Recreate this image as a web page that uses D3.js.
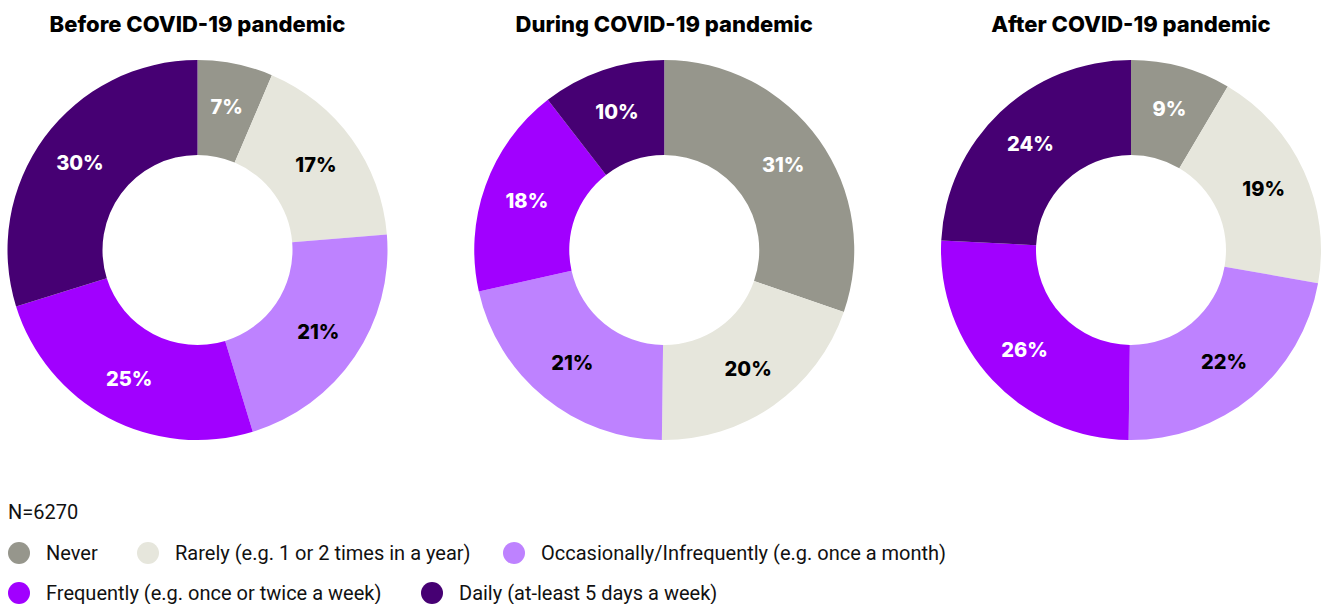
<!DOCTYPE html>
<meta charset="UTF-8">
<style>
body { margin: 0; background: #fff; }
.title { font: 800 22px "Inter", "Liberation Sans", sans-serif; fill: #000; }
.pct { font: 800 20px "Inter", "Liberation Sans", sans-serif; }
.legend text { font: 20px "Roboto", sans-serif; fill: #111; }
</style>
<body>
<div class="chart"></div>
<script src="https://d3js.org/d3.v7.min.js"></script>
<script>
var categories = ["Never", "Rarely", "Occasionally", "Frequently", "Daily"];
var legendLabels = [
  "Never",
  "Rarely (e.g. 1 or 2 times in a year)",
  "Occasionally/Infrequently (e.g. once a month)",
  "Frequently (e.g. once or twice a week)",
  "Daily (at-least 5 days a week)"
];
var colors = ["#96968c", "#e6e6dc", "#be82ff", "#a100ff", "#460073"];
var labelColors = ["#fff", "#000", "#000", "#fff", "#fff"];

var periods = ["Before COVID-19 pandemic", "During COVID-19 pandemic", "After COVID-19 pandemic"];
// slice shares as drawn
var beforeShare = [6.4, 17.3, 21.6, 24.9, 29.8];
var duringShare = [30.3, 19.9, 21.3, 18.0, 10.5];
var afterShare = [8.5, 19.3, 22.4, 25.6, 24.2];
// printed labels
var beforeLabel = [7, 17, 21, 25, 30];
var duringLabel = [31, 20, 21, 18, 10];
var afterLabel = [9, 19, 22, 26, 24];
var sampleNote = "N=6270";

var width = 1324, height = 604;
var svg = d3.select(".chart").append("svg")
  .attr("width", width)
  .attr("height", height);

var outerR = 190, innerR = 95, labelR = 146;
var cx = d3.scalePoint().domain(periods).range([197.5, 1131]);
var cy = 250;

var pie = d3.pie().sort(null).value(function (d) { return d; });
var arc = d3.arc().innerRadius(innerR).outerRadius(outerR);
var labelArc = d3.arc().innerRadius(labelR).outerRadius(labelR);

var shares = [beforeShare, duringShare, afterShare];
var labels = [beforeLabel, duringLabel, afterLabel];

shares.forEach(function (vals, i) {
  var g = svg.append("g")
    .attr("transform", "translate(" + cx(periods[i]) + "," + cy + ")");

  g.append("text")
    .attr("class", "title")
    .attr("y", -cy + 32)
    .attr("text-anchor", "middle")
    .text(periods[i]);

  var arcs = pie(vals);
  g.selectAll("path").data(arcs).enter().append("path")
    .attr("d", arc)
    .attr("fill", function (d, j) { return colors[j]; });

  g.selectAll("text.pct").data(arcs).enter().append("text")
    .attr("class", "pct")
    .attr("transform", function (d) { return "translate(" + labelArc.centroid(d) + ")"; })
    .attr("text-anchor", "middle")
    .attr("dy", "0.35em")
    .attr("fill", function (d, j) { return labelColors[j]; })
    .text(function (d, j) { return labels[i][j] + "%"; });
});

// legend
var legend = svg.append("g").attr("class", "legend");
legend.append("text").attr("x", 8).attr("y", 519).text(sampleNote);

var legendPos = [[19, 553], [148, 553], [514, 553], [19, 593], [432, 593]];
var item = legend.selectAll("g.item").data(categories).enter().append("g")
  .attr("class", "item")
  .attr("transform", function (d, i) { return "translate(" + legendPos[i][0] + "," + legendPos[i][1] + ")"; });
item.append("circle").attr("r", 11).attr("fill", function (d, i) { return colors[i]; });
item.append("text").attr("x", 27).attr("dy", "0.35em").text(function (d, i) { return legendLabels[i]; });
</script>
</body>
